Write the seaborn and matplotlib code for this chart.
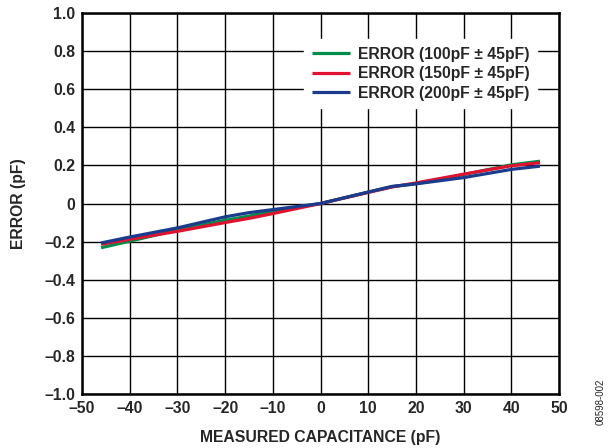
import matplotlib
matplotlib.use("Agg")
import matplotlib.pyplot as plt
import seaborn as sns
import pandas as pd

# values
cap_pf = [-46, -40, -30, -20, -15, -10, 0, 10, 15, 20, 30, 40, 46]
err_100 = [-0.232, -0.198, -0.139, -0.088, -0.066, -0.040, 0.0, 0.060, 0.088, 0.104, 0.152, 0.203, 0.222]
err_150 = [-0.214, -0.188, -0.146, -0.100, -0.078, -0.053, 0.0, 0.058, 0.087, 0.108, 0.154, 0.198, 0.214]
err_200 = [-0.207, -0.176, -0.128, -0.070, -0.048, -0.032, 0.0, 0.060, 0.090, 0.103, 0.136, 0.179, 0.196]

series_names = ['ERROR (100pF ± 45pF)', 'ERROR (150pF ± 45pF)', 'ERROR (200pF ± 45pF)']
series_colors = ['#008C4A', '#E1122F', '#1B3C8C']

xticks = [-50, -40, -30, -20, -10, 0, 10, 20, 30, 40, 50]
xtick_labels = ['–50', '–40', '–30', '–20', '–10', '0', '10', '20', '30', '40', '50']
yticks = [1.0, 0.8, 0.6, 0.4, 0.2, 0, -0.2, -0.4, -0.6, -0.8, -1.0]
ytick_labels = ['1.0', '0.8', '0.6', '0.4', '0.2', '0', '–0.2', '–0.4', '–0.6', '–0.8', '–1.0']

frames = []
for name, vals in zip(series_names, [err_100, err_150, err_200]):
    frames.append(pd.DataFrame({'cap': cap_pf, 'err': vals, 'series': name}))
df = pd.concat(frames, ignore_index=True)

sns.set_theme(style='white')
plt.rcParams['font.family'] = ['Liberation Sans', 'DejaVu Sans']
plt.rcParams['font.weight'] = 'bold'
fs = 11.3

fig = plt.figure(figsize=(6.13, 4.48), dpi=100)
ax = fig.add_axes([0.1338, 0.1205, 0.7782, 0.8505])

sns.lineplot(data=df, x='cap', y='err', hue='series', palette=series_colors,
             hue_order=series_names, linewidth=2.3, ax=ax, sort=False,
             solid_capstyle='butt')

ax.set_xlim(-50, 50)
ax.set_ylim(-1.0, 1.0)
ax.set_xticks(xticks)
ax.set_xticklabels(xtick_labels, fontsize=fs, fontweight='bold')
ax.set_yticks(yticks)
ax.set_yticklabels(ytick_labels, fontsize=fs, fontweight='bold')
ax.tick_params(axis='both', length=0, pad=5)
ax.grid(True, color='black', linewidth=1.0)
ax.set_axisbelow(True)
for sp in ax.spines.values():
    sp.set_color('black')
    sp.set_linewidth(1.8)

ax.set_xlabel('MEASURED CAPACITANCE (pF)', fontsize=fs, fontweight='bold', labelpad=10)
ax.set_ylabel('ERROR (pF)', fontsize=fs, fontweight='bold', labelpad=13)

leg = ax.legend(loc='upper right', bbox_to_anchor=(0.954, 0.932), borderaxespad=0,
                frameon=True, fancybox=False, framealpha=1, edgecolor='white',
                facecolor='white', handlelength=2.4, handletextpad=0.5,
                labelspacing=0.28, borderpad=0.5, prop={'size': fs, 'weight': 'bold'})
for line in leg.get_lines():
    line.set_linewidth(2.3)

fig.text(0.980, 0.103, '08598-002', rotation=90, fontsize=7, fontweight='normal',
         ha='center', va='center')

fig.savefig('out.png', dpi=100)
